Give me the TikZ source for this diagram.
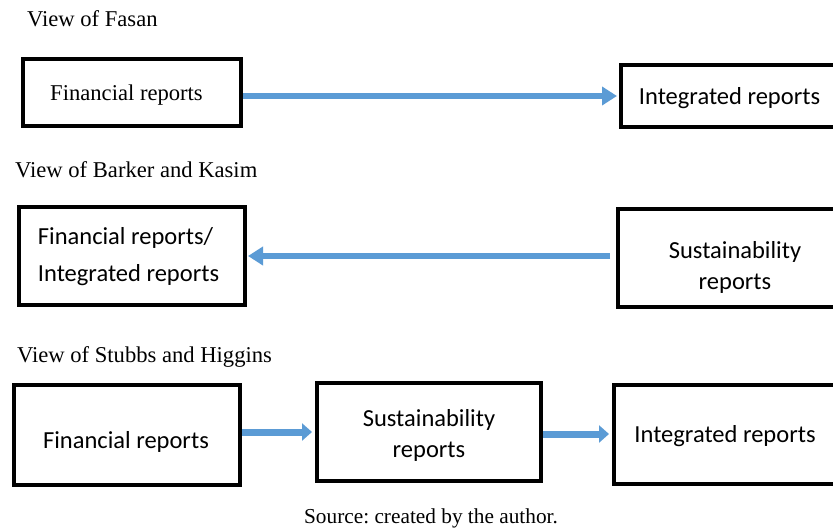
\documentclass[tikz,border=0pt]{standalone}
\usepackage{fontspec}
\setmainfont{Liberation Serif}
\newfontfamily\boxfont{Carlito}
\usetikzlibrary{arrows.meta}
\definecolor{flowblue}{HTML}{5B9BD5}
\frenchspacing
\tikzset{
    report-box/.style = {draw=black, fill=white, line width=4pt, rectangle, inner sep=0pt, align=center, font=\boxfont\fontsize{24.5}{31}\selectfont},
    box-text/.style = {inner sep=0pt, align=center, font=\boxfont\fontsize{24.5}{31}\selectfont},
    view-title/.style = {anchor=base west, inner sep=0pt, font=\fontsize{22.6}{26}\selectfont},
    flow-arrow/.style = {draw=flowblue, line width=6pt, -{Triangle[length=15pt,width=18pt]}},
    short-arrow/.style = {flow-arrow, line width=7pt, -{Triangle[length=10pt,width=17pt]}},
}
\begin{document}
\begin{tikzpicture}[x=1pt, y=-1pt]
\clip (0,0) rectangle (833,530);
\fill[white] (0,0) rectangle (833,530);
% view of Fasan
\node[view-title] (fasan) at (27,27) {View of Fasan};
\node[report-box, minimum width=218pt, minimum height=67pt] (fin1) at (132,92.5) {};
\node[box-text, font=\fontsize{22.6}{26}\selectfont] (fin1-text) at (126.5,95) {Financial reports};
\node[report-box, minimum width=217pt, minimum height=62pt] (int1) at (729.5,96) {};
\node[box-text] (int1-text) at (729.5,98) {Integrated reports};
\draw[flow-arrow, shorten >=2pt] (fin1.east |- int1.west) -- (int1.west);
% view of Barker and Kasim
\node[view-title] (barker) at (15,177) {View of Barker and Kasim};
\node[report-box, minimum width=226pt, minimum height=98pt] (finint2) at (132,256) {};
\node[box-text, align=left, font=\boxfont\fontsize{24.5}{37}\selectfont] (finint2-text) at (128.5,257) {Financial reports/\\Integrated reports};
\node[report-box, minimum width=226pt, minimum height=98pt] (sus2) at (731,258) {};
\node[box-text] (sus2-text) at (735,267) {Sustainability\\reports};
\draw[flow-arrow, shorten <=6pt, shorten >=1pt] (sus2.west |- finint2.east) -- (finint2.east);
% view of Stubbs and Higgins
\node[view-title] (stubbs) at (17,362) {View of Stubbs and Higgins};
\node[report-box, minimum width=226pt, minimum height=100pt] (fin3) at (127,435) {};
\node[box-text] (fin3-text) at (126,442) {Financial reports};
\node[report-box, minimum width=224pt, minimum height=98pt] (sus3) at (429,432) {};
\node[box-text] (sus3-text) at (429,435) {Sustainability\\reports};
\node[report-box, minimum width=222pt, minimum height=99pt] (int3) at (725,434.5) {};
\node[box-text] (int3-text) at (725,436) {Integrated reports};
\draw[short-arrow, shorten >=3pt] (fin3.east |- sus3.west) -- (sus3.west);
\draw[short-arrow, shorten >=3pt] ([yshift=-2pt]sus3.east) -- ([yshift=-2pt]sus3.east -| int3.west);
\node[anchor=base, inner sep=0pt, font=\fontsize{21.3}{25}\selectfont] (source) at (431,523) {Source: created by the author.};
\end{tikzpicture}
\end{document}
